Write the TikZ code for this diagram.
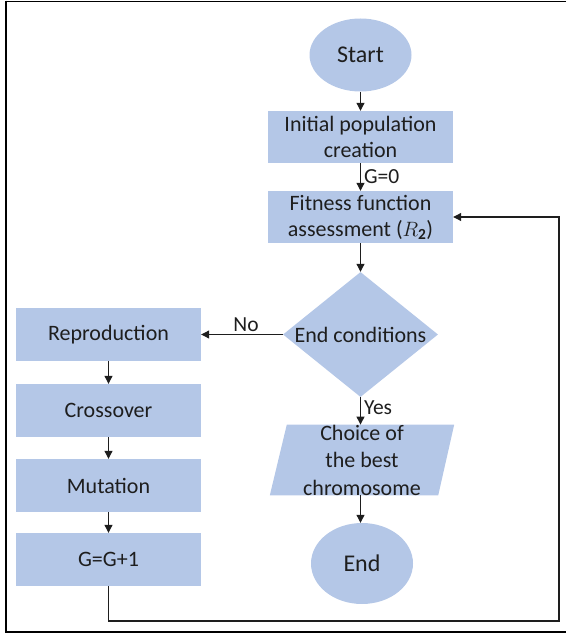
\documentclass[tikz,border=0pt]{standalone}
\usepackage{fontspec}
\setmainfont{Carlito}
\usetikzlibrary{shapes.geometric,arrows.meta,backgrounds}
\definecolor{boxfill}{HTML}{B4C7E7}
\definecolor{ink}{HTML}{1E1E1E}
\begin{document}
\begin{tikzpicture}[x=1pt,y=-1pt,
  font=\fontsize{22}{26}\selectfont, text=ink,
  box/.style={rectangle, fill=boxfill, minimum width=185pt, minimum height=53pt, inner sep=0pt, align=center},
  term/.style={ellipse, fill=boxfill, inner sep=0pt, font=\fontsize{24}{28}\selectfont},
  conn/.style={draw=ink, line width=1.1pt, -{Triangle[length=8pt,width=8pt]}},
  lbl/.style={inner sep=3pt, font=\fontsize{21.5}{26}\selectfont}]
\useasboundingbox (0,0) rectangle (566,636);
% frame
\draw[black, line width=1.2pt] (566,1.2) -- (6,1.2);
\draw[black, line width=2.6pt] (6,0.6) -- (6,632) -- (566,632);

\node[term, minimum width=102pt, minimum height=73pt] (start) at (360.5,55) {Start};
\node[box, minimum height=52pt] (init) at (360.5,137) {Initial population\\creation};
\node[box, minimum height=52pt] (fit) at (360.5,217) {Fitness function\\assessment ($R_{\mathbf{2}}$)};
\node[diamond, fill=boxfill, minimum width=155pt, minimum height=125pt, inner sep=0pt,
      label=center:End conditions] (cond) at (360.5,334.5) {};
\node[box] (repro) at (108.5,334.5) {Reproduction};
\node[box] (cross) at (108.5,410.5) {Crossover};
\node[box] (mut) at (108.5,485.5) {Mutation};
\node[box] (gg) at (108.5,559.5) {G=G+1};
\node[minimum width=184pt, minimum height=69pt, inner sep=0pt, align=center,
      font=\fontsize{22}{27.5}\selectfont] (choice) at (362,460) {Choice of\\the best\\chromosome};
\begin{scope}[on background layer]
\fill[boxfill] ([xshift=17pt]choice.north west) -- (choice.north east)
  -- ([xshift=-16pt]choice.south east) -- (choice.south west) -- cycle;
\end{scope}
\node[term, minimum width=102pt, minimum height=81pt] (end) at (362,563.5) {End};

\draw[conn] (start.south) -- (init.north);
\draw[conn] (init.south) -- node[right, lbl] {G=0} (fit.north);
\draw[conn] (fit.south) -- (cond.north);
\draw[conn] (cond.west) -- node[above, pos=0.45, lbl, inner sep=2pt] {No} (repro.east);
\draw[conn] (cond.south) -- node[right, pos=0.4, lbl] {Yes} (cond.south |- choice.north);
\draw[conn] (cond.south |- choice.south) -- (cond.south |- end.north);
\draw[conn] (repro.south) -- (cross.north);
\draw[conn] (cross.south) -- (mut.north);
\draw[conn] (mut.south) -- (gg.north);
\coordinate (lc) at (559,621);
\draw[conn] (gg.south) |- (lc) |- (fit.east);
\end{tikzpicture}
\end{document}
